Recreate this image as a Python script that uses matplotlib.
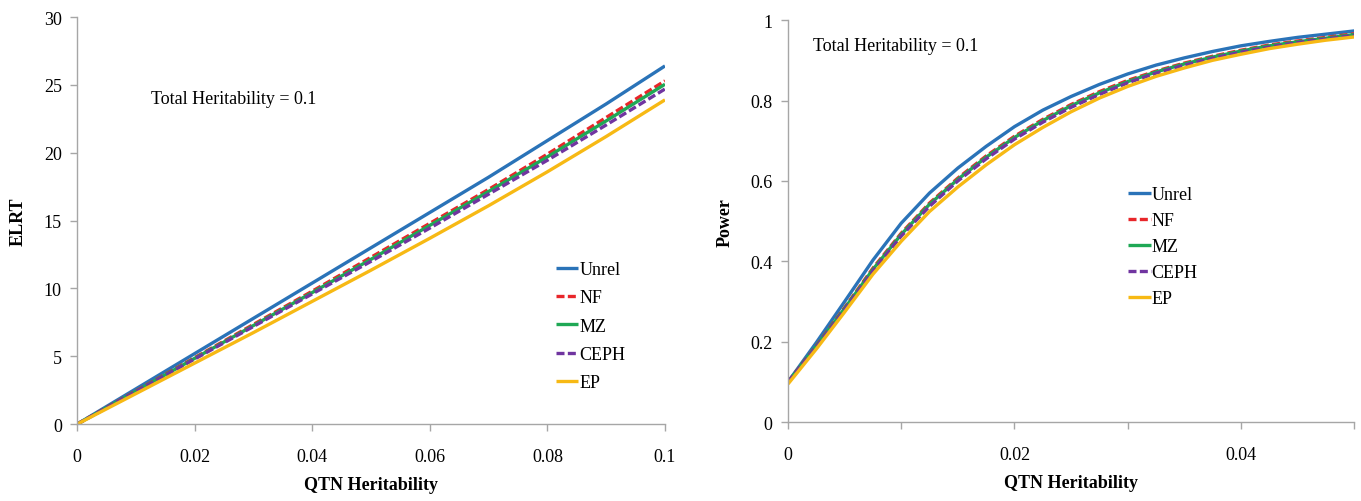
import matplotlib
matplotlib.use("Agg")
import matplotlib.pyplot as plt
from matplotlib import rcParams

rcParams['font.family'] = ['Liberation Serif', 'DejaVu Serif']
rcParams['xtick.direction'] = 'out'
rcParams['ytick.direction'] = 'out'
rcParams['xtick.labelsize'] = 13
rcParams['ytick.labelsize'] = 13

# ---------------- data ----------------
labels = ["Unrel", "NF", "MZ", "CEPH", "EP"]
colors = ["#2a73b8", "#e8262a", "#1fa855", "#7035a0", "#f7b914"]
dashed = [False, True, False, True, False]

# left: ELRT vs QTN heritability
x_elrt = [0, 0.01, 0.02, 0.03, 0.04, 0.05, 0.06, 0.07, 0.08, 0.09, 0.1]
elrt_unrel = [0, 2.6, 5.2, 7.8, 10.4, 13.0, 15.6, 18.2, 20.9, 23.6, 26.4]
elrt_nf = [0, 2.45, 4.9, 7.35, 9.8, 12.3, 14.8, 17.3, 19.9, 22.6, 25.3]
elrt_mz = [0, 2.42, 4.85, 7.27, 9.7, 12.15, 14.65, 17.15, 19.7, 22.35, 25.05]
elrt_ceph = [0, 2.4, 4.8, 7.2, 9.6, 12.0, 14.45, 16.95, 19.45, 22.05, 24.7]
elrt_ep = [0, 2.25, 4.5, 6.75, 9.05, 11.35, 13.7, 16.1, 18.6, 21.2, 23.9]

# right: power vs QTN heritability
x_pow = [0, 0.0025, 0.005, 0.0075, 0.01, 0.0125, 0.015, 0.0175, 0.02, 0.0225,
         0.025, 0.0275, 0.03, 0.0325, 0.035, 0.0375, 0.04, 0.0425, 0.045,
         0.0475, 0.05]
pow_unrel = [0.10, 0.198, 0.30, 0.403, 0.495, 0.57, 0.632, 0.686, 0.735, 0.776,
             0.81, 0.84, 0.866, 0.888, 0.906, 0.922, 0.936, 0.947, 0.957,
             0.965, 0.973]
pow_nf = [0.10, 0.19, 0.285, 0.383, 0.47, 0.545, 0.607, 0.662, 0.711, 0.753,
          0.79, 0.822, 0.85, 0.873, 0.893, 0.91, 0.925, 0.938, 0.948,
          0.957, 0.966]
pow_mz = [0.10, 0.189, 0.283, 0.38, 0.467, 0.542, 0.604, 0.659, 0.708, 0.75,
          0.787, 0.819, 0.847, 0.871, 0.891, 0.908, 0.923, 0.936, 0.946,
          0.955, 0.964]
pow_ceph = [0.10, 0.187, 0.28, 0.376, 0.463, 0.537, 0.6, 0.655, 0.704, 0.746,
            0.783, 0.815, 0.844, 0.868, 0.888, 0.905, 0.92, 0.933, 0.944,
            0.953, 0.962]
pow_ep = [0.095, 0.182, 0.274, 0.368, 0.45, 0.524, 0.585, 0.64, 0.69, 0.733,
          0.772, 0.806, 0.835, 0.86, 0.881, 0.9, 0.915, 0.929, 0.94,
          0.95, 0.958]

elrt_series = [elrt_unrel, elrt_nf, elrt_mz, elrt_ceph, elrt_ep]
pow_series = [pow_unrel, pow_nf, pow_mz, pow_ceph, pow_ep]

fig = plt.figure(figsize=(13.61, 5.02), dpi=100)

ax1 = fig.add_axes([0.0566, 0.153, 0.432, 0.811])
ax2 = fig.add_axes([0.579, 0.157, 0.416, 0.801])


def style_axes(ax):
    for s in ['top', 'right']:
        ax.spines[s].set_visible(False)
    for s in ['left', 'bottom']:
        ax.spines[s].set_color('#a6a6a6')
        ax.spines[s].set_linewidth(1.0)
    ax.tick_params(axis='both', color='#a6a6a6', length=5, width=1.0)
    ax.tick_params(axis='x', pad=12)
    ax.tick_params(axis='y', pad=6)
    ax.set_xlabel('QTN Heritability', fontsize=13, fontweight='bold', labelpad=8)


def draw(ax, x, series):
    for i in range(5):
        line, = ax.plot(x, series[i], color=colors[i], linewidth=2.4,
                        label=labels[i], solid_capstyle='butt')
        if dashed[i]:
            line.set_dashes((2.4, 1.0))


# left panel
draw(ax1, x_elrt, elrt_series)
ax1.set_xlim(0, 0.1)
ax1.set_ylim(0, 30)
ax1.set_xticks([0, 0.02, 0.04, 0.06, 0.08, 0.1])
ax1.set_xticklabels(["0", "0.02", "0.04", "0.06", "0.08", "0.1"])
ax1.set_yticks([0, 5, 10, 15, 20, 25, 30])
ax1.set_ylabel('ELRT', fontsize=13, fontweight='bold', labelpad=12)
style_axes(ax1)
ax1.text(0.125, 0.79, "Total Heritability = 0.1", transform=ax1.transAxes,
         fontsize=13)
ax1.legend(loc='upper left', bbox_to_anchor=(0.802, 0.418), frameon=False,
           fontsize=13, handlelength=1.25, handletextpad=0.05,
           labelspacing=0.62, borderaxespad=0)

# right panel
draw(ax2, x_pow, pow_series)
ax2.set_xlim(0, 0.05)
ax2.set_ylim(0, 1)
ax2.set_xticks([0, 0.02, 0.04])
ax2.set_xticklabels(["0", "0.02", "0.04"])
ax2.set_xticks([0.01, 0.03, 0.05], minor=True)
ax2.tick_params(axis='x', which='minor', color='#a6a6a6', length=5, width=1.0)
ax2.set_yticks([0, 0.2, 0.4, 0.6, 0.8, 1])
ax2.set_yticklabels(["0", "0.2", "0.4", "0.6", "0.8", "1"])
ax2.set_ylabel('Power', fontsize=13, fontweight='bold', labelpad=12)
style_axes(ax2)
ax2.text(0.045, 0.925, "Total Heritability = 0.1", transform=ax2.transAxes,
         fontsize=13)
ax2.legend(loc='upper left', bbox_to_anchor=(0.588, 0.605), frameon=False,
           fontsize=13, handlelength=1.25, handletextpad=0.05,
           labelspacing=0.5, borderaxespad=0)

plt.savefig('out.png', format='png', dpi=100)
